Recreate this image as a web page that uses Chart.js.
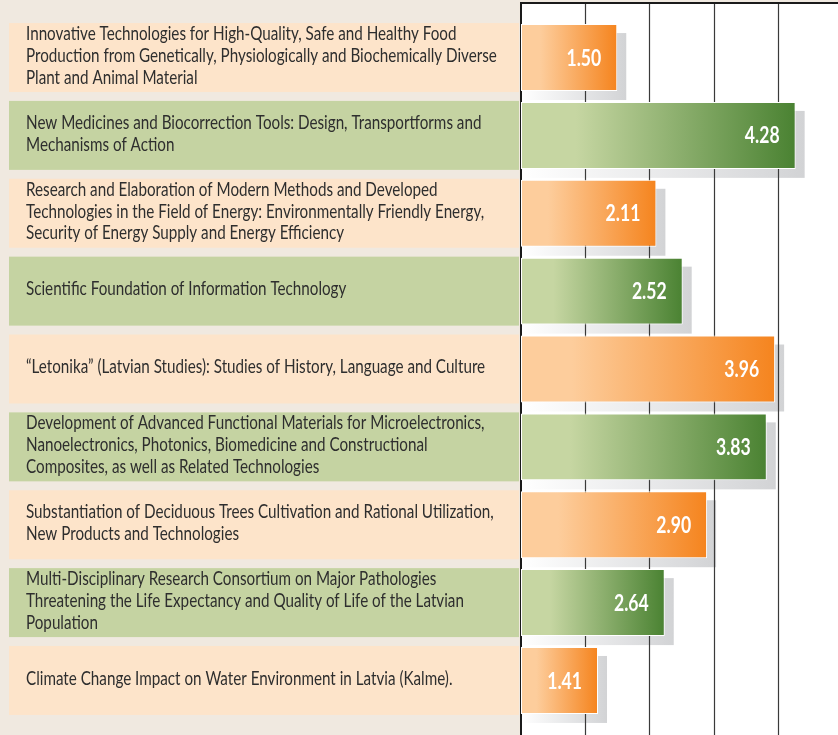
<!DOCTYPE html>
<html>
<head>
<meta charset="utf-8">
<script src="https://cdn.jsdelivr.net/npm/chart.js@4/dist/chart.umd.min.js"></script>
<style>
  html, body { margin: 0; padding: 0; background: #F0E9E0; overflow: hidden; }
  #wrap { width: 838px; height: 735px; }
</style>
</head>
<body>
<div id="wrap"><canvas id="c" width="838" height="735"></canvas></div>
<script>
const categories = [
  ["Innovative Technologies for High-Quality, Safe and Healthy Food", "Production from Genetically, Physiologically and Biochemically Diverse", "Plant and Animal Material"],
  ["New Medicines and Biocorrection Tools: Design, Transportforms and", "Mechanisms of Action"],
  ["Research and Elaboration of Modern Methods and Developed", "Technologies in the Field of Energy: Environmentally Friendly Energy,", "Security of Energy Supply and Energy Efficiency"],
  ["Scientific Foundation of Information Technology"],
  ["\u201CLetonika\u201D (Latvian Studies): Studies of History, Language and Culture"],
  ["Development of Advanced Functional Materials for Microelectronics,", "Nanoelectronics, Photonics, Biomedicine and Constructional", "Composites, as well as Related Technologies"],
  ["Substantiation of Deciduous Trees Cultivation and Rational Utilization,", "New Products and Technologies"],
  ["Multi-Disciplinary Research Consortium on Major Pathologies", "Threatening the Life Expectancy and Quality of Life of the Latvian", "Population"],
  ["Climate Change Impact on Water Environment in Latvia (Kalme)."]
];
// printed values (labels on the bars)
const values = [1.50, 4.28, 2.11, 2.52, 3.96, 3.83, 2.90, 2.64, 1.41];
// bar lengths as drawn in the original picture (last two bars are drawn shorter than their labels)
const drawnLengths = [1.50, 4.28, 2.11, 2.52, 3.96, 3.83, 2.90, 2.24, 1.20];
const gridValues = [1, 2, 3, 4];

const FONT = 'Lato, "Open Sans", sans-serif';
const LABEL_SQUEEZE = 0.78;
const VALUE_SQUEEZE = 0.8;
const PAGE_BG = '#F0E9E0';
const BOX_COLORS = ['#FDE4CA', '#C5D3A2'];
const BAR_START = ['#FDCD9C', '#C6D6A2'];
const BAR_END = ['#F5841E', '#4A8232'];
const PLOT_TOP = 3;
const BOX_LEFT = 9;
const SHADOW = 9;

class CondensedCategoryScale extends Chart.CategoryScale {
  _computeLabelArea() { return null; }
  drawLabels(chartArea) {
    const ctx = this.ctx;
    ctx.save();
    ctx.translate(this.left, -2);
    ctx.scale(LABEL_SQUEEZE, 1);
    ctx.translate(-this.left, 0);
    super.drawLabels(chartArea);
    ctx.restore();
  }
}
CondensedCategoryScale.id = 'condensedCategory';
CondensedCategoryScale.defaults = Chart.CategoryScale.defaults;
Chart.register(CondensedCategoryScale);

function barColor(ctx) {
  const chart = ctx.chart;
  const i = ctx.dataIndex % 2;
  const area = chart.chartArea;
  if (!area || ctx.type !== 'data') return BAR_END[i];
  const xs = chart.scales.x;
  const x0 = xs.getPixelForValue(0);
  const x1 = xs.getPixelForValue(drawnLengths[ctx.dataIndex]);
  const g = chart.ctx.createLinearGradient(x0, 0, x1, 0);
  g.addColorStop(0, BAR_START[i]);
  g.addColorStop(0.2, BAR_START[i]);
  g.addColorStop(1, BAR_END[i]);
  return g;
}

const decor = {
  id: 'decor',
  beforeDraw(chart) {
    const c = chart.ctx, a = chart.chartArea;
    c.save();
    c.fillStyle = PAGE_BG;
    c.fillRect(0, 0, chart.width, chart.height);
    c.fillStyle = '#FFFFFF';
    c.fillRect(a.left, PLOT_TOP, chart.width - a.left, chart.height - PLOT_TOP);
    const meta = chart.getDatasetMeta(0);
    meta.data.forEach((bar, i) => {
      const p = bar.getProps(['y', 'height'], true);
      c.fillStyle = BOX_COLORS[i % 2];
      c.fillRect(BOX_LEFT, p.y - p.height / 2 - 1, a.left - 2 - BOX_LEFT, p.height + 2);
    });
    c.restore();
  },
  beforeDatasetsDraw(chart) {
    const c = chart.ctx, a = chart.chartArea;
    const xs = chart.scales.x;
    const meta = chart.getDatasetMeta(0);
    c.save();
    meta.data.forEach((bar) => {
      const p = bar.getProps(['x', 'y', 'base', 'height'], true);
      const top = p.y - p.height / 2 + SHADOW;
      const right = p.x + SHADOW;
      const g = c.createLinearGradient(a.left, 0, right, 0);
      g.addColorStop(0, '#FFFFFF');
      g.addColorStop(0.85, '#D9DADC');
      g.addColorStop(1, '#D2D3D5');
      c.fillStyle = g;
      c.fillRect(a.left, top, right - a.left, p.height);
    });
    c.strokeStyle = '#3a3a3a';
    c.lineWidth = 1.2;
    gridValues.forEach(v => {
      const x = Math.round(xs.getPixelForValue(v)) + 0.5;
      c.beginPath();
      c.moveTo(x, PLOT_TOP);
      c.lineTo(x, chart.height);
      c.stroke();
    });
    c.strokeStyle = '#1a1a1a';
    c.lineWidth = 2;
    c.beginPath();
    c.moveTo(a.left, chart.height);
    c.lineTo(a.left, PLOT_TOP);
    c.lineTo(chart.width, PLOT_TOP);
    c.stroke();
    c.restore();
  },
  afterDatasetsDraw(chart) {
    const c = chart.ctx;
    const meta = chart.getDatasetMeta(0);
    c.save();
    c.fillStyle = '#FFFFFF';
    c.font = 'bold 22px ' + FONT;
    c.textAlign = 'right';
    c.textBaseline = 'middle';
    meta.data.forEach((bar, i) => {
      const p = bar.getProps(['x', 'y'], true);
      c.save();
      c.translate(p.x - 16, p.y + 1);
      c.scale(VALUE_SQUEEZE, 1);
      c.fillText(values[i].toFixed(2), 0, 0);
      c.restore();
    });
    c.restore();
  }
};

new Chart(document.getElementById('c'), {
  type: 'bar',
  data: {
    labels: categories,
    datasets: [{
      data: drawnLengths,
      backgroundColor: barColor,
      borderColor: '#FFFFFF',
      borderWidth: 1,
      borderSkipped: false,
      categoryPercentage: 1,
      barPercentage: 0.86
    }]
  },
  options: {
    indexAxis: 'y',
    responsive: false,
    animation: false,
    layout: { padding: { left: 26, top: 18.6, bottom: 15.6, right: 0 } },
    plugins: { legend: { display: false }, tooltip: { enabled: false } },
    scales: {
      x: {
        display: false,
        min: 0,
        max: 4.94
      },
      y: {
        type: 'condensedCategory',
        grid: { display: false },
        border: { display: false },
        afterFit(scale) {
          scale.width = 495;
          scale.paddingTop = 0;
          scale.paddingBottom = 0;
        },
        ticks: {
          crossAlign: 'far',
          color: '#2e2e2e',
          autoSkip: false,
          padding: 0,
          font: { family: FONT, size: 19.5, lineHeight: 1.113 }
        }
      }
    }
  },
  plugins: [decor]
});
</script>
</body>
</html>
